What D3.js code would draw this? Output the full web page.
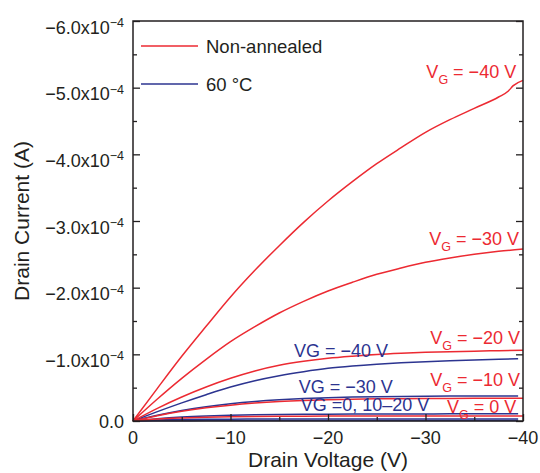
<!DOCTYPE html>
<html>
<head>
<meta charset="utf-8">
<script src="https://cdn.jsdelivr.net/npm/d3@7/dist/d3.min.js"></script>
<style>
  html, body { margin: 0; padding: 0; background: #fff; }
  svg { display: block; font-family: "Liberation Sans", Arial, Helvetica, sans-serif; }
</style>
</head>
<body>
<svg id="chart" width="540" height="473"></svg>
<script>
// ---------------- DATA (drain current in µA, negative) ----------------
const xTickValues = [0, -10, -20, -30, -40];
const xTickLabels = ["0", "\u221210", "\u221220", "\u221230", "\u221240"];
const xMinorValues = [-5, -15, -25, -35];
const yTickValues = [0, -100, -200, -300, -400, -500, -600];
const yTickMantissa = ["0.0", "\u22121.0x10", "\u22122.0x10", "\u22123.0x10", "\u22124.0x10", "\u22125.0x10", "\u22126.0x10"];
const yTickExponent = ["", "\u22124", "\u22124", "\u22124", "\u22124", "\u22124", "\u22124"];
const yMinorValues = [-50, -150, -250, -350, -450, -550];

// Non-annealed sweeps
const vRed40 = [0,-2.5,-5,-7.5,-10,-12.5,-15,-17.5,-20,-22.5,-25,-27.5,-30,-32.5,-35,-37.5,-38.5,-39,-40];
const iRed40 = [0,-49,-97,-142,-186,-226,-263,-298,-330,-359,-386,-410,-433,-452,-469,-486,-495,-503,-511];
const vRed = [0,-2.5,-5,-7.5,-10,-12.5,-15,-17.5,-20,-22.5,-25,-27.5,-30,-32.5,-35,-37.5,-40];
const iRed30 = [0,-33,-64,-92.5,-119,-141.5,-162,-179.5,-195,-208,-220,-229.5,-238,-244.5,-250,-254.5,-258];
const iRed20 = [0,-19,-36,-51,-64,-75,-83.5,-89.5,-94,-97.2,-99.8,-101.6,-103,-104,-104.8,-105.4,-106];
const iRed10 = [0,-8,-14.5,-19.7,-23.8,-26.9,-29.2,-30.8,-31.9,-32.7,-33.2,-33.5,-33.7,-33.85,-33.95,-34,-34];
const iRed0  = [0,-3,-4.6,-5.6,-6.3,-6.8,-7.1,-7.3,-7.4,-7.45,-7.5,-7.5,-7.5,-7.5,-7.5,-7.5,-7.5];

// 60 °C annealed sweeps
const vBlue = [0,-2.5,-5,-7.5,-10,-12.5,-15,-17.5,-20,-22.5,-25,-27.5,-30,-32.5,-35,-37.5,-39.5];
const iBlue40 = [0,-14,-27.2,-39.5,-51,-60.5,-68,-74,-79,-82.5,-85.2,-87.3,-89,-90.4,-91.6,-92.6,-93.3];
const iBlue30 = [0,-8.5,-15.7,-21.5,-26,-29.4,-31.9,-33.7,-35,-35.9,-36.5,-36.9,-37.2,-37.4,-37.5,-37.6,-37.6];
const iBlue20 = [0,-3.5,-6,-7.6,-8.6,-9.3,-9.8,-10.1,-10.3,-10.45,-10.55,-10.6,-10.65,-10.7,-10.7,-10.7,-10.7];
const iBlue10 = [0,-1.5,-2.2,-2.6,-2.8,-2.9,-3,-3,-3,-3,-3,-3,-3,-3,-3,-3,-3];
const iBlue0  = [0,-0.4,-0.5,-0.6,-0.6,-0.6,-0.6,-0.6,-0.6,-0.6,-0.6,-0.6,-0.6,-0.6,-0.6,-0.6,-0.6];

const legendLabels = ["Non-annealed", "60 \u00B0C"];
const redLabels = ["0 V", "\u221210 V", "\u221220 V", "\u221230 V", "\u221240 V"];
const blueLabels = ["VG = \u221240 V", "VG = \u221230 V", "VG =0, 10\u201320 V"];

// ---------------- LAYOUT ----------------
const RED = "#ec2a32", BLUE = "#2c3490", INK = "#231f20";
const svg = d3.select("#chart");
const x = d3.scaleLinear().domain([0, -40]).range([133, 523]);
const y = d3.scaleLinear().domain([0, -600]).range([421, 21]);

// curves
const line = d3.line().x(d => x(d[0])).y(d => y(d[1])).curve(d3.curveMonotoneX);
const zip = (a, b) => a.map((v, i) => [v, b[i]]);
const blueSeries = [iBlue0, iBlue10, iBlue20, iBlue30, iBlue40].map(s => zip(vBlue, s));
const redSeries = [zip(vRed, iRed0), zip(vRed, iRed10), zip(vRed, iRed20), zip(vRed, iRed30), zip(vRed40, iRed40)];

const gCurves = svg.append("g");
gCurves.selectAll("path.blue").data(blueSeries).join("path")
  .attr("class", "blue").attr("d", line)
  .attr("fill", "none").attr("stroke", BLUE).attr("stroke-width", 1.5);
gCurves.selectAll("path.red").data(redSeries).join("path")
  .attr("class", "red").attr("d", line)
  .attr("fill", "none").attr("stroke", RED).attr("stroke-width", 1.5);

// axes ticks (inward)
function tickAxis(axis, tf) {
  const g = svg.append("g").attr("transform", tf).call(axis);
  g.select(".domain").remove();
  g.selectAll("line").attr("stroke", INK).attr("stroke-width", 1.3);
  g.selectAll("text").remove();
  return g;
}
tickAxis(d3.axisBottom(x).tickValues(xTickValues).tickSize(-7).tickSizeOuter(0), "translate(0,421)");
tickAxis(d3.axisBottom(x).tickValues(xMinorValues).tickSize(-4).tickSizeOuter(0), "translate(0,421)");
tickAxis(d3.axisLeft(y).tickValues(yTickValues).tickSize(-7).tickSizeOuter(0), "translate(133,0)");
tickAxis(d3.axisLeft(y).tickValues(yMinorValues).tickSize(-4).tickSizeOuter(0), "translate(133,0)");
tickAxis(d3.axisRight(y).tickValues(yTickValues).tickSize(-7).tickSizeOuter(0), "translate(523,0)");
tickAxis(d3.axisRight(y).tickValues(yMinorValues).tickSize(-4).tickSizeOuter(0), "translate(523,0)");

// frame
svg.append("rect").attr("x", x(0)).attr("y", y(-600))
  .attr("width", x(-40) - x(0)).attr("height", y(0) - y(-600))
  .attr("fill", "none").attr("stroke", INK).attr("stroke-width", 1.5);

// x tick labels
svg.append("g").selectAll("text").data(xTickValues).join("text")
  .attr("x", d => x(d)).attr("y", 444)
  .attr("text-anchor", "middle").attr("font-size", 18).attr("fill", INK)
  .text((d, i) => xTickLabels[i]);

// y tick labels
const yl = svg.append("g").selectAll("text").data(yTickValues).join("text")
  .attr("x", 124).attr("y", (d, i) => y(d) + (yTickExponent[i] ? 12.5 : 6.5))
  .attr("text-anchor", "end").attr("font-size", 18).attr("fill", INK);
yl.append("tspan").text((d, i) => yTickMantissa[i]);
yl.filter((d, i) => yTickExponent[i]).append("tspan")
  .attr("dy", -6.5).attr("font-size", 12.5).text(d => yTickExponent[yTickValues.indexOf(d)]);

// axis titles
svg.append("text").attr("x", x(-20)).attr("y", 467)
  .attr("text-anchor", "middle").attr("font-size", 21).attr("fill", INK)
  .text("Drain Voltage (V)");
svg.append("text").attr("transform", `translate(29,${y(-300)}) rotate(-90)`)
  .attr("text-anchor", "middle").attr("font-size", 21).attr("fill", INK)
  .text("Drain Current (A)");

// legend
const legColors = [RED, BLUE];
const leg = svg.append("g");
legendLabels.forEach((t, i) => {
  const ly = 46 + i * 38;
  leg.append("line").attr("x1", 141).attr("x2", 198).attr("y1", ly).attr("y2", ly)
    .attr("stroke", legColors[i]).attr("stroke-width", 1.5);
  leg.append("text").attr("x", 206).attr("y", ly + 7).attr("font-size", 18.5).attr("fill", INK).text(t);
});

// red curve labels (right aligned, anchored in data units)
const redLabelPos = [[-39.3, -12], [-39.7, -52.5], [-39.7, -115.5], [-39.6, -264], [-39.3, -515]];
redLabels.forEach((lab, i) => {
  const p = redLabelPos[i];
  const t = svg.append("text").attr("x", x(p[0])).attr("y", y(p[1]))
    .attr("text-anchor", "end").attr("font-size", 18).attr("fill", RED);
  t.append("tspan").text("V");
  t.append("tspan").attr("dy", 6).attr("font-size", 12.5).text("G");
  t.append("tspan").attr("dy", -6).text(" = " + lab);
});

// blue curve labels (left aligned)
const bluePos = [[-16.5, -96], [-17.0, -42], [-17.2, -15]];
blueLabels.forEach((lab, i) => {
  svg.append("text").attr("x", x(bluePos[i][0])).attr("y", y(bluePos[i][1]))
    .attr("font-size", 18).attr("fill", BLUE).text(lab);
});
</script>
</body>
</html>
